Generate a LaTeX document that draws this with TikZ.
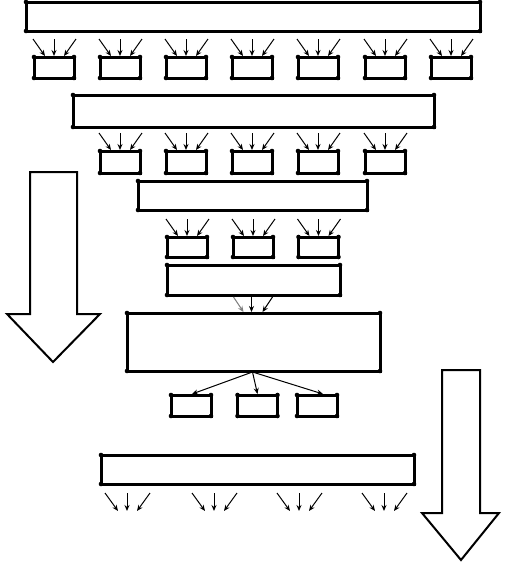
\documentclass[tikz,border=0pt]{standalone}
\usetikzlibrary{arrows.meta,calc}
\begin{document}
\begin{tikzpicture}[x=1pt,y=-1pt,
  box/.style={draw, line width=3pt, rectangle, inner sep=0pt, outer sep=0pt},
  sbox/.style={box, minimum width=40pt, minimum height=21pt},
  arr/.style={line width=1pt, -{Stealth[length=6pt,width=5pt]}},
  bigarrow/.style={draw, line width=2pt, fill=white, line join=miter}]
\useasboundingbox (0,0) rectangle (505,566);
% big boxes
\node[box, minimum width=454pt, minimum height=29pt] (T1) at (253,16.5) {};
\node[box, minimum width=361pt, minimum height=32pt] (T2) at (253.5,111) {};
\node[box, minimum width=229pt, minimum height=29pt] (T3) at (252.5,195.5) {};
\node[box, minimum width=173pt, minimum height=30pt] (T4) at (253.5,280) {};
\node[box, minimum width=253pt, minimum height=58pt] (T5) at (253.5,342) {};
\node[box, minimum width=313pt, minimum height=29pt] (T6) at (257.5,469.5) {};
% small boxes
\foreach \n/\x in {a/54,b/120,c/186,d/252,e/318,f/385,g/451}
  \node[sbox] (r1\n) at (\x,67.5) {};
\foreach \n/\x in {a/120,b/186,c/252,d/318,e/385}
  \node[sbox, minimum height=22pt] (r2\n) at (\x,162) {};
\foreach \n/\x in {a/187,b/253,c/318.5}
  \node[sbox, minimum height=20pt] (r3\n) at (\x,247) {};
\foreach \n/\x in {a/191,b/257.5,c/317}
  \node[sbox] (r4\n) at (\x,405.5) {};
% corner dots
\foreach \n in {T1,T2,T3,T4,T5,T6,r1a,r1b,r1c,r1d,r1e,r1f,r1g,r2a,r2b,r2c,r2d,r2e,r3a,r3b,r3c,r4a,r4b,r4c}
  \foreach \a in {north west,north east,south west,south east}
    \fill (\n.\a) circle (2.3pt);
% incoming triple arrows
\foreach \n in {r1a,r1b,r1c,r1d,r1e,r1f,r1g,r2a,r2b,r2c,r2d,r2e,r3a,r3b,r3c} {
  \draw[arr] ($(\n.north)+(-21,-18)$) -- ($(\n.north)+(-9,-1)$);
  \draw[arr] ($(\n.north)+(0,-18)$) -- ($(\n.north)+(0,-1)$);
  \draw[arr] ($(\n.north)+(22,-18)$) -- ($(\n.north)+(10,-1)$);
}
% T4 to T5
\draw[arr, gray] ($(T4.south)+(-20,2)$) -- ($(T5.north)+(-10,-1)$);
\draw[arr] ($(T4.south)+(-2,2)$) -- ($(T5.north)+(-2,-1)$);
\draw[arr] ($(T4.south)+(19,2)$) -- ($(T5.north)+(9,-1)$);
% T5 to row 4
\draw[arr] ($(T5.south)+(-1,1)$) -- ($(r4a.north)+(1,-1)$);
\draw[arr] ($(T5.south)+(-1,1)$) -- ($(r4b.north)+(0,-1)$);
\draw[arr] ($(T5.south)+(-1,1)$) -- ($(r4c.north)+(6,-1)$);
% outgoing triple arrows below T6
\foreach \c [count=\i] in {127,214,299,384} {
  \coordinate (o\i) at (\c,493);
  \draw[arr] ($(o\i)+(-22,0)$) -- ($(o\i)+(-9,18)$);
  \draw[arr] (o\i) -- ($(o\i)+(0,18)$);
  \draw[arr] ($(o\i)+(23,0)$) -- ($(o\i)+(10,18)$);
}
% big hollow arrows
\draw[bigarrow] (30,172) -- (77,172) -- (77,314) -- (100,314) -- (53,362) -- (7,314) -- (30,314) -- cycle;
\draw[bigarrow] (442,370) -- (480,370) -- (480,513) -- (499,513) -- (461,560) -- (422,513) -- (442,513) -- cycle;
\end{tikzpicture}
\end{document}
